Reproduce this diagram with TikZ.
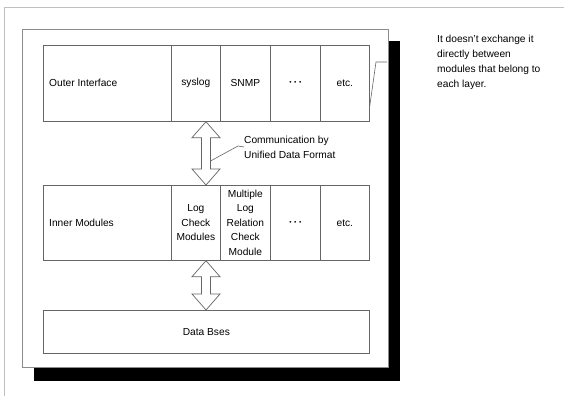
\documentclass[tikz,border=0pt]{standalone}
\usepackage{fontspec}
\setmainfont{Liberation Sans}
\usetikzlibrary{calc}
\newcommand{\mydots}{{\fontsize{6.5}{7}\selectfont •\hspace{2.6pt}•\hspace{2.6pt}•}}
\begin{document}
\begin{tikzpicture}[x=1pt,y=-1pt,
  cell/.style={draw=black!60, line width=0.7pt, fill=white, anchor=north west, inner sep=0pt, align=center,
     font=\fontsize{10.2}{14.5}\selectfont},
  txt/.style={inner sep=0pt, font=\fontsize{10.2}{14.8}\selectfont, align=left},
  fatarrow/.style={draw=black!60, line width=0.7pt, fill=white, line join=miter},
  callout/.style={draw=black!60, line width=0.6pt}]
\useasboundingbox (0,0) rectangle (564,396);
% outer frame
\draw[black!25, line width=1.2pt] (4.5,396) -- (4.5,7.5) -- (564,7.5);
% shadow and main box
\fill[black] (34,41) rectangle (400,381);
\draw[black!45, line width=0.7pt, fill=white] (22,29) rectangle (388,367);
% row 1
\node[cell, minimum width=128, minimum height=76] (oi) at (43,45) {};
\node[txt, anchor=west] (oit) at ([xshift=6]oi.west) {Outer Interface};
\node[cell, minimum width=49, minimum height=76] (syslog) at (171,45) {syslog};
\node[cell, minimum width=50, minimum height=76] (snmp) at (220,45) {SNMP};
\node[cell, minimum width=50, minimum height=76] (dots1) at (270,45) {\mydots};
\node[cell, minimum width=49, minimum height=76] (etc1) at (320,45) {etc.};
% row 2
\node[cell, minimum width=128, minimum height=75] (im) at (43,185) {};
\node[txt, anchor=west] (imt) at ([xshift=6]im.west) {Inner Modules};
\node[cell, minimum width=49, minimum height=75] (lcm) at (171,185) {Log\\Check\\Modules};
\node[cell, minimum width=50, minimum height=75] (mlr) at (220,185) {Multiple\\Log\\Relation\\Check\\Module};
\node[cell, minimum width=50, minimum height=75] (dots2) at (270,185) {\mydots};
\node[cell, minimum width=49, minimum height=75] (etc2) at (320,185) {etc.};
% row 3
\node[cell, minimum width=326, minimum height=43] (db) at (43,310) {Data Bses};
% double arrows
\coordinate (t1) at ([xshift=35]syslog.south west);
\coordinate (b1) at ([xshift=35]lcm.north west);
\coordinate (t2) at ([xshift=35]lcm.south west);
\coordinate (b2) at ([xshift=163]db.north west);
\foreach \t/\b in {t1/b1, t2/b2}{
  \draw[fatarrow] (\t) -- ($(\t)+(14,16)$) -- ($(\t)+(4.5,16)$) -- ($(\b)+(4.5,-16)$) -- ($(\b)+(14,-16)$)
    -- (\b) -- ($(\b)+(-14,-16)$) -- ($(\b)+(-4.5,-16)$) -- ($(\t)+(-4.5,16)$) -- ($(\t)+(-14,16)$) -- cycle;
}
% callout 1
\coordinate (c1a) at ($(t1)+(5,39)$);
\coordinate (c1b) at (238,146);
\node[txt, anchor=west] (comm) at (244,147) {Communication by\\Unified Data Format};
\draw[callout] (c1a) -- (c1b) -- (comm.west);
% callout 2
\coordinate (c2a) at ([yshift=-23]etc1.east);
\coordinate (c2b) at (376,62);
\coordinate (c2c) at (387,62);
\draw[callout] (c2a) -- (c2b) -- (c2c);
\node[txt, anchor=west] (note) at (437,62.5) {It doesn't exchange it\\directly between\\modules that belong to\\each layer.};
\end{tikzpicture}
\end{document}
